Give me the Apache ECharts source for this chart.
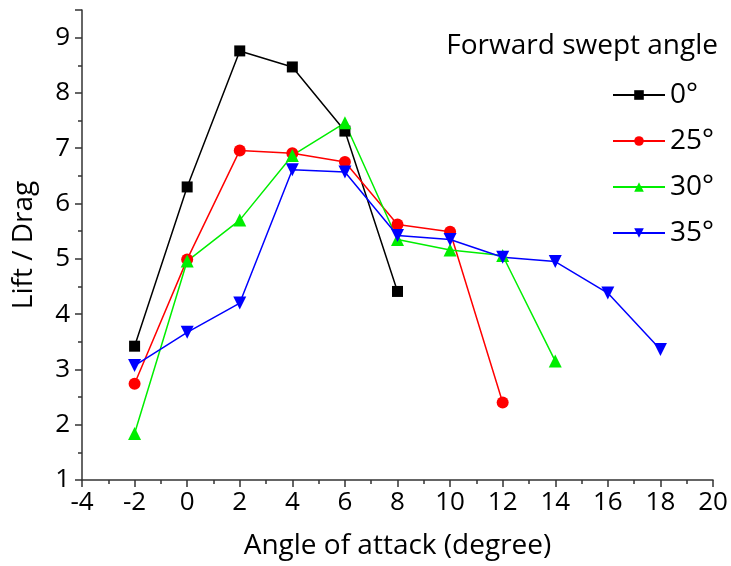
<!DOCTYPE html>
<html>
<head>
<meta charset="utf-8">
<script src="https://cdn.jsdelivr.net/npm/echarts@6/dist/echarts.min.js"></script>
<style>
  html, body { margin: 0; padding: 0; background: #fff; }
  #main { width: 731px; height: 566px; }
</style>
</head>
<body>
<div id="main"></div>
<script>
// angle of attack (degree)
var aoa = [-2, 0, 2, 4, 6, 8, 10, 12, 14, 16, 18];
var seriesNames = ['0°', '25°', '30°', '35°'];
// lift / drag per forward swept angle
var ld0 = [3.42, 6.30, 8.76, 8.47, 7.31, 4.41];
var ld25 = [2.74, 4.99, 6.96, 6.91, 6.75, 5.62, 5.49, 2.40];
var ld30 = [1.84, 4.96, 5.70, 6.87, 7.46, 5.35, 5.16, 5.06, 3.15];
var ld35 = [3.07, 3.67, 4.20, 6.61, 6.57, 5.42, 5.35, 5.03, 4.95, 4.38, 3.36];

var font = 'Open Sans';
var chart = echarts.init(document.getElementById('main'));

function pairs(vals) {
  return vals.map(function (v, i) { return [aoa[i], v]; });
}

function mk(name, vals, color, symbol, size, rotate) {
  return {
    name: name,
    type: 'line',
    data: pairs(vals),
    symbol: symbol,
    symbolSize: size,
    symbolRotate: rotate || 0,
    itemStyle: { color: color },
    lineStyle: { color: color, width: 1.5 },
    animation: false
  };
}

var option = {
  backgroundColor: '#fff',
  title: {
    text: 'Forward swept angle',
    right: 8,
    top: 27,
    textStyle: { fontFamily: font, fontSize: 28, fontWeight: 'normal', color: '#000' }
  },
  legend: {
    orient: 'vertical',
    left: 607,
    top: 76,
    itemWidth: 52,
    itemHeight: 12,
    itemGap: 18,
    textStyle: { fontFamily: font, fontSize: 28, color: '#000', lineHeight: 27 },
    data: seriesNames
  },
  grid: { left: 82, right: 18, top: 10, bottom: 86 },
  xAxis: {
    type: 'value',
    min: -4, max: 20, interval: 2,
    name: 'Angle of attack (degree)',
    nameLocation: 'middle',
    nameGap: 52,
    nameTextStyle: { fontFamily: font, fontSize: 28, color: '#000' },
    axisLine: { lineStyle: { color: '#333', width: 1.5 } },
    axisTick: { inside: false, length: 7, lineStyle: { color: '#333', width: 1.5 } },
    minorTick: { show: true, splitNumber: 2, length: 4, lineStyle: { color: '#333', width: 1.5 } },
    axisLabel: { fontFamily: font, fontSize: 26, color: '#000', margin: 10 },
    splitLine: { show: false }
  },
  yAxis: {
    type: 'value',
    min: 1, max: 9.5, interval: 1,
    name: 'Lift / Drag',
    nameLocation: 'middle',
    nameGap: 44,
    nameTextStyle: { fontFamily: font, fontSize: 28, color: '#000' },
    axisLine: { show: true, onZero: false, lineStyle: { color: '#333', width: 1.5 } },
    axisTick: { show: true, inside: false, length: 7, lineStyle: { color: '#333', width: 1.5 } },
    minorTick: { show: true, splitNumber: 2, length: 4, lineStyle: { color: '#333', width: 1.5 } },
    axisLabel: { fontFamily: font, fontSize: 26, color: '#000', margin: 12, showMaxLabel: false },
    splitLine: { show: false }
  },
  series: [
    mk(seriesNames[0], ld0, '#000000', 'rect', 11),
    mk(seriesNames[1], ld25, '#ff0000', 'circle', 12),
    mk(seriesNames[2], ld30, '#00ee00', 'triangle', 13),
    mk(seriesNames[3], ld35, '#0000ff', 'triangle', 13, 180)
  ]
};
chart.setOption(option);
</script>
</body>
</html>
